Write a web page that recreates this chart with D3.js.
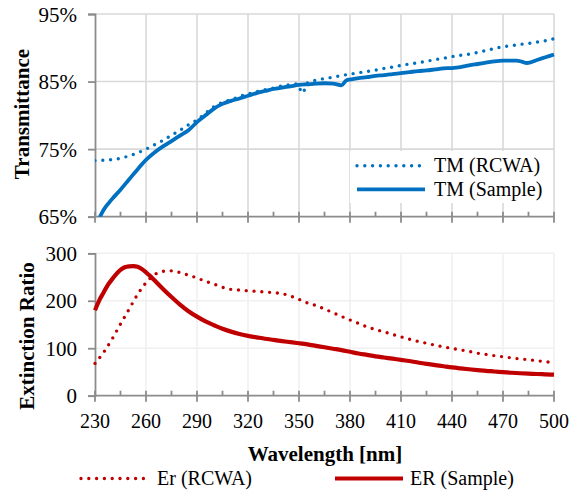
<!DOCTYPE html>
<html>
<head>
<meta charset="utf-8">
<script src="https://cdn.jsdelivr.net/npm/d3@7"></script>
<style>
  html, body { margin: 0; padding: 0; background: #fff; }
  svg { display: block; }
</style>
</head>
<body>
<svg id="chart" width="582" height="492"></svg>
<script>
// Wavelength axis
const wlTicks = [230, 260, 290, 320, 350, 380, 410, 440, 470, 500];
const tmTicks = [65, 75, 85, 95];
const erTicks = [0, 100, 200, 300];

// Transmittance, TM (RCWA) [%]
const tmRcwaWl = [230,235,240,245,250,255,260,265,270,275,280,285,290,295,300,305,310,315,320,325,330,335,340,345,349,352,355,360,365,370,375,380,385,390,395,400,405,410,415,420,425,430,435,440,445,450,455,460,465,470,475,480,485,490,495,500];
const tmRcwa = [73.3,73.35,73.45,73.65,74.0,74.45,75.0,75.65,76.3,77.05,77.8,78.6,79.35,80.3,81.3,81.9,82.3,82.8,83.15,83.5,83.8,84.05,84.35,84.55,84.65,83.3,84.8,85.2,85.45,85.65,85.9,86.1,86.3,86.5,86.7,86.95,87.15,87.4,87.6,87.8,88.0,88.25,88.45,88.7,88.9,89.05,89.3,89.6,89.9,90.15,90.3,90.5,90.65,90.85,91.05,91.35];

// Transmittance, TM (Sample) [%]
const tmSampleWl = [230,235,240,245,250,255,260,265,270,275,280,285,290,295,300,305,310,315,320,325,330,335,340,345,350,355,360,365,370,375,378,380,385,390,395,400,405,410,415,420,425,430,435,440,445,450,455,460,465,470,475,478,481,484,490,495,500];
const tmSample = [63.3,66.0,67.6,69.0,70.5,72.0,73.4,74.5,75.4,76.2,77.0,77.8,79.0,80.0,81.0,81.7,82.15,82.5,82.9,83.3,83.6,83.9,84.1,84.3,84.5,84.6,84.7,84.75,84.7,84.45,85.2,85.3,85.5,85.65,85.85,85.95,86.1,86.25,86.4,86.55,86.65,86.8,86.95,87.0,87.15,87.4,87.6,87.8,88.0,88.1,88.1,88.1,87.95,87.75,88.2,88.6,89.0];

// Extinction ratio, Er (RCWA)
const erRcwaWl = [230,235,240,245,250,255,260,265,270,275,280,285,290,295,300,305,310,315,320,325,330,335,340,345,350,355,360,365,370,375,380,385,390,395,400,405,410,415,420,425,430,435,440,445,450,455,460,465,470,475,480,485,490,495,500];
const erRcwa = [68,91,119,151,182,213,238,255,262,263,259.5,254,248,241,235,228.5,224,222.5,221,220,218.5,217,215,210,203,195.5,190,182.5,175,167,159.5,152.5,145,139.5,134.5,129,124,119,114.5,110.5,106.5,103,99.5,96.5,93.3,89.5,87,84.3,82,79.6,77.5,75.8,73.8,71.5,69.5];

// Extinction ratio, ER (Sample)
const erSampleWl = [230,232.5,235,237.5,240,242.5,245,247.5,250,252.5,255,257.5,260,262.5,265,270,275,280,285,290,295,300,305,310,315,320,325,330,335,340,345,350,355,360,365,370,375,380,385,390,395,400,405,410,415,420,425,430,435,440,445,450,455,460,465,470,475,480,485,490,495,500];
const erSample = [180,201,217,233,245,256,265,270.5,272.5,273,271.5,267,260,252,243,225,208,192,178,166.5,156.5,148.5,141,135,130,126,123,120,117.5,115,112.8,110.5,108,105,102,99,96,92.5,89,86,83,80.5,78,75.5,73,70,67,64.5,62,59.5,57.5,55.7,54,52.3,51,49.5,48.3,47.3,46.5,45.7,45,44.2];

const BLUE = "#0070C0";
const RED = "#C00000";
const AXIS = "#8C8C8C";
const SERIF = "Liberation Serif";

const svg = d3.select("#chart");

const x = d3.scaleLinear().domain([230, 500]).range([95, 554]);
const yT = d3.scaleLinear().domain([65, 95]).range([216.7, 14]);
const yE = d3.scaleLinear().domain([0, 300]).range([395.7, 253.3]);

function zipPts(wl, vals) { return wl.map((w, i) => [w, vals[i]]); }

function addText(parent) {
  return parent.append("text").attr("font-family", SERIF).attr("fill", "#000");
}

function drawPanel(y, ticks, gridColor, fmt, tickFont) {
  const g = svg.append("g");
  const [y0, y1] = y.range();
  // horizontal gridlines
  g.selectAll(".hg").data(ticks.slice(1)).join("line")
    .attr("x1", x(230)).attr("x2", x(500))
    .attr("y1", d => y(d)).attr("y2", d => y(d))
    .attr("stroke", gridColor).attr("stroke-width", 1.6);
  // vertical gridlines
  g.selectAll(".vg").data(wlTicks.slice(1)).join("line")
    .attr("x1", d => x(d)).attr("x2", d => x(d))
    .attr("y1", y1).attr("y2", y0)
    .attr("stroke", gridColor).attr("stroke-width", 1.6);
  // value axis
  const ya = d3.axisLeft(y).tickValues(ticks).tickSize(7).tickPadding(11).tickFormat(fmt);
  const yg = g.append("g").attr("transform", `translate(${x(230)},0)`).call(ya)
    .attr("font-family", SERIF);
  yg.select(".domain").attr("stroke", AXIS).attr("stroke-width", 1.8);
  yg.selectAll(".tick line").attr("stroke", AXIS).attr("stroke-width", 1.8);
  yg.selectAll(".tick text").attr("font-size", tickFont).attr("fill", "#000")
    .attr("font-family", SERIF).attr("dy", "0.34em");
  // wavelength axis line with major/minor ticks
  const minor = d3.range(245, 500, 30);
  const xg = g.append("g");
  xg.append("line").attr("x1", x(230)).attr("x2", x(500)).attr("y1", y0).attr("y2", y0)
    .attr("stroke", AXIS).attr("stroke-width", 1.8);
  xg.selectAll(".mj").data(wlTicks).join("line")
    .attr("x1", d => x(d)).attr("x2", d => x(d)).attr("y1", y0 - 5).attr("y2", y0 + 6)
    .attr("stroke", AXIS).attr("stroke-width", 1.8);
  xg.selectAll(".mn").data(minor).join("line")
    .attr("x1", d => x(d)).attr("x2", d => x(d)).attr("y1", y0 - 5).attr("y2", y0)
    .attr("stroke", AXIS).attr("stroke-width", 1.8);
  return g;
}

drawPanel(yT, tmTicks, "#D9D9D9", d => d + "%", 21);
drawPanel(yE, erTicks, "#F0F0F0", d => d, 21);

// wavelength tick labels under the lower panel
svg.append("g").selectAll("text").data(wlTicks).join("text")
  .attr("x", d => x(d)).attr("y", 428).attr("text-anchor", "middle")
  .attr("font-family", SERIF).attr("font-size", 20).attr("fill", "#000").text(d => d);

// clip regions
const defs = svg.append("defs");
defs.append("clipPath").attr("id", "clipT").append("rect")
  .attr("x", x(230)).attr("y", yT(95) - 4).attr("width", x(500) - x(230) + 4).attr("height", yT(65) - yT(95) + 4);
defs.append("clipPath").attr("id", "clipE").append("rect")
  .attr("x", x(230) - 3).attr("y", yE(300) - 4).attr("width", x(500) - x(230) + 6).attr("height", yE(0) - yE(300) + 4);

const lineT = d3.line().x(d => x(d[0])).y(d => yT(d[1])).curve(d3.curveMonotoneX);
const lineE = d3.line().x(d => x(d[0])).y(d => yE(d[1])).curve(d3.curveMonotoneX);

const DOTS = "0 7.8";

const gT = svg.append("g").attr("clip-path", "url(#clipT)");
gT.append("path").attr("d", lineT(zipPts(tmRcwaWl, tmRcwa)))
  .attr("fill", "none").attr("stroke", BLUE).attr("stroke-width", 3.4)
  .attr("stroke-linecap", "round").attr("stroke-dasharray", DOTS);
gT.append("path").attr("d", lineT(zipPts(tmSampleWl, tmSample)))
  .attr("fill", "none").attr("stroke", BLUE).attr("stroke-width", 3.8)
  .attr("stroke-linejoin", "round");

const gE = svg.append("g").attr("clip-path", "url(#clipE)");
gE.append("path").attr("d", lineE(zipPts(erRcwaWl, erRcwa)))
  .attr("fill", "none").attr("stroke", RED).attr("stroke-width", 3.4)
  .attr("stroke-linecap", "round").attr("stroke-dasharray", DOTS);
gE.append("path").attr("d", lineE(zipPts(erSampleWl, erSample)))
  .attr("fill", "none").attr("stroke", RED).attr("stroke-width", 4.2)
  .attr("stroke-linejoin", "round");

// axis titles
addText(svg).attr("transform", "translate(29,114) rotate(-90)")
  .attr("text-anchor", "middle").attr("font-size", 21).attr("font-weight", "bold")
  .text("Transmittance");
addText(svg).attr("transform", "translate(34,336) rotate(-90)")
  .attr("text-anchor", "middle").attr("font-size", 21).attr("font-weight", "bold")
  .text("Extinction Ratio");
addText(svg).attr("x", 325).attr("y", 461).attr("text-anchor", "middle")
  .attr("font-size", 21).attr("font-weight", "bold").text("Wavelength [nm]");

// legend for the transmittance panel
const legT = svg.append("g");
legT.append("rect").attr("x", 350).attr("y", 151).attr("width", 202).attr("height", 52).attr("fill", "#fff");
const legTItems = [
  { label: "TM (RCWA)", color: BLUE, dotted: true, y: 165.7 },
  { label: "TM (Sample)", color: BLUE, dotted: false, y: 189.3 }
];
legTItems.forEach(it => {
  legT.append("line").attr("x1", 357).attr("x2", 425).attr("y1", it.y).attr("y2", it.y)
    .attr("stroke", it.color).attr("stroke-width", it.dotted ? 3.4 : 3.8)
    .attr("stroke-linecap", it.dotted ? "round" : "butt")
    .attr("stroke-dasharray", it.dotted ? DOTS : null);
  addText(legT).attr("x", 434).attr("y", it.y + 6.5).attr("font-size", 20).text(it.label);
});

// legend for the extinction ratio panel
const legE = svg.append("g");
const legEItems = [
  { label: "Er (RCWA)", color: RED, dotted: true, x1: 81, x2: 147, tx: 157 },
  { label: "ER (Sample)", color: RED, dotted: false, x1: 335, x2: 403, tx: 410 }
];
legEItems.forEach(it => {
  legE.append("line").attr("x1", it.x1).attr("x2", it.x2).attr("y1", 478.5).attr("y2", 478.5)
    .attr("stroke", it.color).attr("stroke-width", it.dotted ? 3.4 : 4.2)
    .attr("stroke-linecap", it.dotted ? "round" : "butt")
    .attr("stroke-dasharray", it.dotted ? DOTS : null);
  addText(legE).attr("x", it.tx).attr("y", 485).attr("font-size", 20).text(it.label);
});
</script>
</body>
</html>
